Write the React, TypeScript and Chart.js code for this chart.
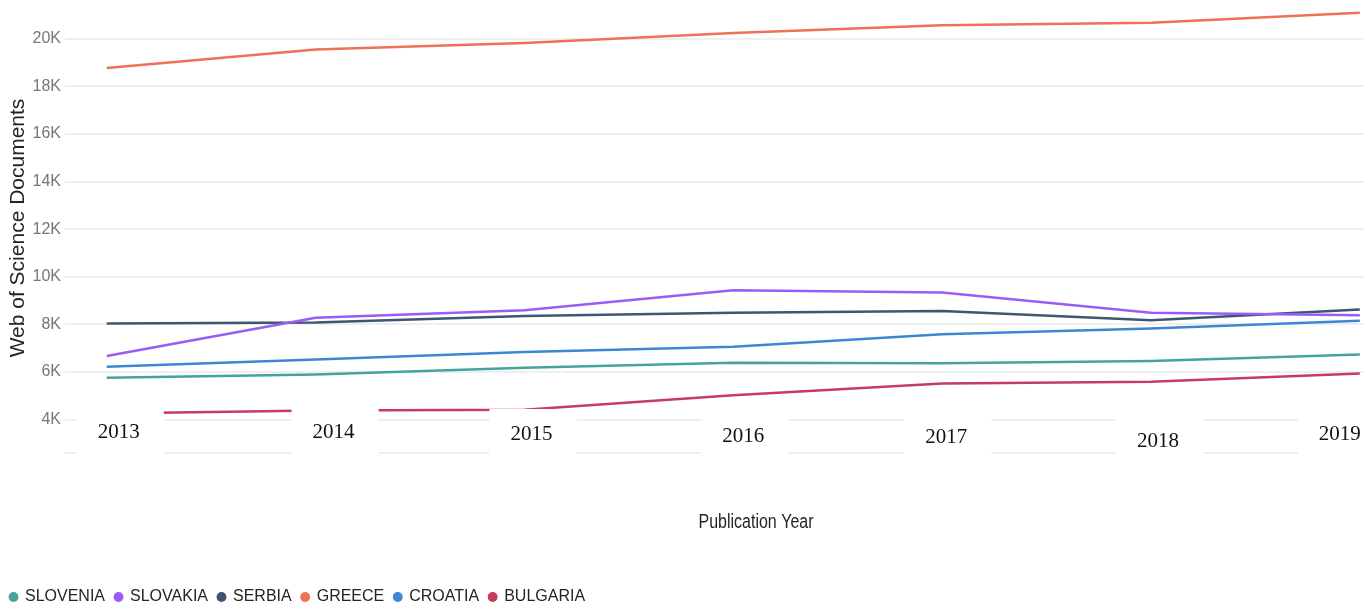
import React, { useEffect, useRef } from 'react';
import { Chart, registerables } from 'chart.js';

Chart.register(...registerables);

// ---- data ----
const years = [2013, 2014, 2015, 2016, 2017, 2018, 2019];
const yearLabels = ['2013', '2014', '2015', '2016', '2017', '2018', '2019'];
const seriesNames = ['SLOVENIA', 'SLOVAKIA', 'SERBIA', 'GREECE', 'CROATIA', 'BULGARIA'];
const slovenia = [5760, 5900, 6180, 6390, 6370, 6460, 6740];
const slovakia = [6670, 8280, 8600, 9440, 9340, 8490, 8390];
const serbia = [8040, 8080, 8350, 8490, 8560, 8180, 8630];
const greece = [18770, 19550, 19820, 20240, 20570, 20670, 21090];
const croatia = [6220, 6530, 6840, 7060, 7590, 7830, 8150];
const bulgaria = [4260, 4390, 4420, 5030, 5520, 5590, 5940];
const yTickValues = [2600, 4000, 6000, 8000, 10000, 12000, 14000, 16000, 18000, 20000];
const xTitle = 'Publication Year';
const yTitle = 'Web of Science Documents';

// ---- style ----
const colors = ['#46a39c', '#9b5cf6', '#3e566f', '#ef7157', '#3d86d1', '#c63b5e'];
const labelDx = [12, 18, 7, 10, 4, 7, -20];
const labelDy = [-21, -20.5, -18.5, -17, -16, -12, -18.5];
const SANS = "'Liberation Sans', Arial, sans-serif";

const yearLabelPlugin = {
  id: 'yearLabels',
  afterDatasetsDraw(chart: any) {
    const { ctx, chartArea, scales } = chart;
    const xs = scales.x;
    ctx.save();
    ctx.fillStyle = '#ffffff';
    years.forEach((yr, i) => {
      const cx = xs.getPixelForValue(yr) + labelDx[i];
      ctx.fillRect(cx + 1.5 - 43.5, chartArea.bottom - 44, 87, 56);
    });
    ctx.fillStyle = '#111111';
    ctx.font = "21px 'Liberation Serif', serif";
    ctx.textAlign = 'center';
    ctx.textBaseline = 'middle';
    years.forEach((yr, i) => {
      const cx = xs.getPixelForValue(yr) + labelDx[i];
      ctx.fillText(yearLabels[i], cx, chartArea.bottom + labelDy[i]);
    });
    // x-axis title (slightly tall, condensed look of the original)
    ctx.font = `16px ${SANS}`;
    ctx.fillStyle = '#252423';
    ctx.translate((chartArea.left + chartArea.right) / 2 + 41.5, chartArea.bottom + 69.5);
    ctx.scale(1, 1.25);
    ctx.fillText(xTitle, 0, 0);
    ctx.restore();
  },
};

export default function App() {
  const ref = useRef<HTMLCanvasElement | null>(null);

  useEffect(() => {
    if (!ref.current) return;
    const all = [slovenia, slovakia, serbia, greece, croatia, bulgaria];
    const chart = new Chart(ref.current, {
      type: 'line',
      data: {
        datasets: all.map((vals, k) => ({
          label: seriesNames[k],
          data: years.map((x, i) => ({ x, y: vals[i] })),
          borderColor: colors[k],
          backgroundColor: colors[k],
          borderWidth: 2.5,
          pointRadius: 0,
          pointHoverRadius: 0,
          pointStyle: 'circle',
          tension: 0,
        })),
      },
      options: {
        responsive: false,
        animation: false,
        devicePixelRatio: 1,
        layout: { padding: { top: 3, left: 0, right: 0, bottom: 0 } },
        font: { family: SANS },
        scales: {
          x: {
            type: 'linear',
            min: 2012.8,
            max: 2019.02,
            grid: { display: false },
            border: { display: false },
            ticks: { display: false },
            afterFit: (s: any) => {
              s.height = 126;
              s.paddingLeft = 0;
              s.paddingRight = 0;
            },
          },
          y: {
            min: 2600,
            max: 21500,
            afterBuildTicks: (s: any) => {
              s.ticks = yTickValues.map((v) => ({ value: v }));
            },
            afterFit: (s: any) => {
              s.width = 65;
              s.paddingTop = 0;
              s.paddingBottom = 0;
            },
            grid: { color: '#efefef', lineWidth: 2, drawTicks: false },
            border: { display: false },
            ticks: {
              padding: 4,
              color: '#777777',
              font: { size: 16, family: SANS },
              callback: (v: any) => (v === 2600 ? '' : `${v / 1000}K`),
            },
            title: {
              display: true,
              text: yTitle,
              color: '#252423',
              font: { size: 21, family: SANS },
              padding: { top: 6, bottom: 0 },
            },
          },
        },
        plugins: {
          tooltip: { enabled: false },
          legend: {
            position: 'bottom',
            align: 'start',
            labels: {
              usePointStyle: true,
              boxHeight: 7,
              boxWidth: 7,
              padding: 10,
              color: '#252423',
              font: { size: 16, family: SANS },
              generateLabels: (c: any) =>
                Chart.defaults.plugins.legend.labels
                  .generateLabels(c)
                  .map((l: any) => ({ ...l, lineWidth: 0 })),
            },
          },
        },
      },
      plugins: [yearLabelPlugin],
    } as any);
    return () => chart.destroy();
  }, []);

  return (
    <div
      style={{
        position: 'absolute',
        left: 0,
        top: 0,
        width: 1364,
        height: 605,
        overflow: 'hidden',
        background: '#ffffff',
      }}
    >
      <canvas ref={ref} width={1364} height={615} />
    </div>
  );
}
